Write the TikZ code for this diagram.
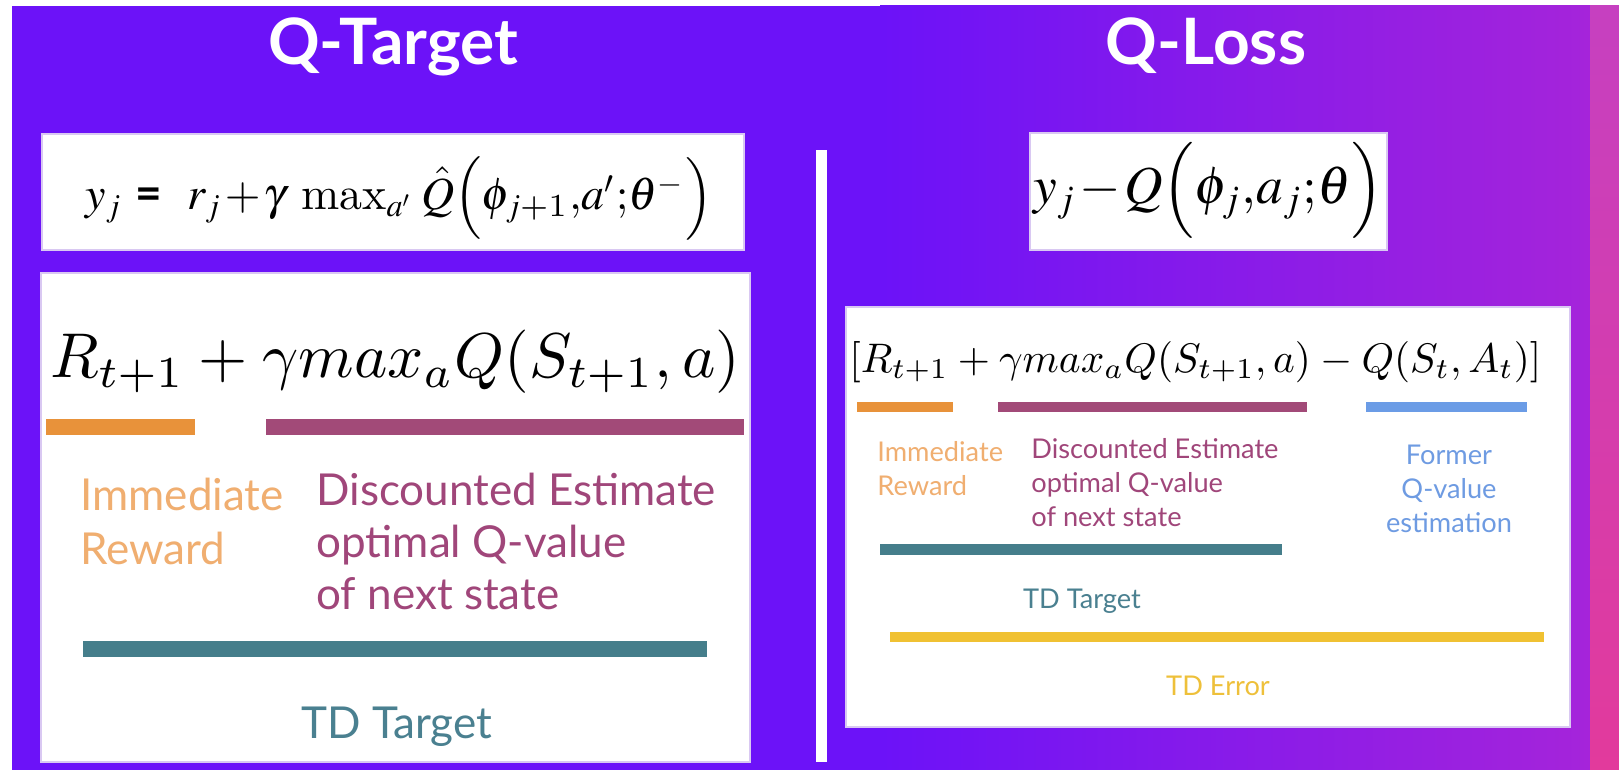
\documentclass[tikz,border=0pt]{standalone}
\usepackage{amsmath}
\usepackage{graphicx}
\usepackage{fontspec}
\newfontfamily\latofont{Lato}
\usetikzlibrary{positioning}
% Times-like math for the DQN formulas
\DeclareMathVersion{times}
\SetSymbolFont{operators}{times}{OT1}{ptm}{m}{n}
\SetSymbolFont{letters}{times}{OML}{ztmcm}{m}{it}
\SetSymbolFont{symbols}{times}{OMS}{ztmcm}{m}{n}
\SetSymbolFont{largesymbols}{times}{OMX}{ztmcm}{m}{n}
\definecolor{bgL}{HTML}{6C12F8}
\definecolor{bgR}{HTML}{A524DA}
\definecolor{stripT}{HTML}{C640C0}
\definecolor{stripB}{HTML}{E23A9C}
\definecolor{panelEdge}{HTML}{D9C8F2}
\definecolor{barOrange}{HTML}{E8923A}
\definecolor{txtOrange}{HTML}{F0AE70}
\definecolor{barPurple}{HTML}{A24A78}
\definecolor{txtPurple}{HTML}{A0467A}
\definecolor{barTeal}{HTML}{457E8B}
\definecolor{txtTeal}{HTML}{4A8090}
\definecolor{barBlue}{HTML}{6B9CE6}
\definecolor{txtBlue}{HTML}{6E9BE2}
\definecolor{barYellow}{HTML}{F0C132}
\definecolor{txtYellow}{HTML}{EEC03A}
\tikzset{
	panel/.style={fill=white, draw=panelEdge, line width=0.6pt},
	title/.style={font=\latofont\bfseries\fontsize{32}{38}\selectfont, text=white, anchor=base, inner sep=0pt},
	biglbl/.style={font=\latofont\fontsize{22}{27.5}\selectfont, align=left, anchor=base west, inner sep=0pt},
	smalllbl/.style={font=\latofont\fontsize{13.6}{17}\selectfont, align=left, anchor=base west, inner sep=0pt},
	formula/.style={inner sep=0pt, anchor=base west}
}

\begin{document}
\begin{tikzpicture}[x=0.5pt, y=-0.5pt]
	% Background and margins
	\fill[white] (0,0) rectangle (1619,770);
	\useasboundingbox (0,0) rectangle (1619,770);
	\fill[bgL] (12,6) rectangle (1590,770);
	\shade[left color=bgL, right color=bgR] (880,6) rectangle (1590,770);
	\shade[top color=stripT, bottom color=stripB] (1590,6) rectangle (1619,770);
	
	% Titles
	\node[title] (qtarget) at (393,65) {Q-Target};
	\node[title] (qloss) at (1206,65) {Q-Loss};
	
	% Divider
	\fill[white] (816,150) rectangle (827,762);
	
	% Left column: Q-Target
	\draw[panel] (42,134) rectangle (744,250);
	\node[formula] (dqntarget) at (85,210) {\resizebox{313.5pt}{!}{\mathversion{times}%
		$y_j\mathrel{\text{\latofont\bfseries =}}\; r_j\!+\!\gamma\,\max\nolimits_{a'}\hat{Q}\Bigl(\phi_{j+1},\!a';\!\theta^-\Bigr)$}};
	
	\draw[panel] (41,273) rectangle (750,762);
	\node[formula] (tdtarget) at (50,378) {\resizebox{345pt}{!}{$R_{t+1}+\gamma max_aQ(S_{t+1},a)$}};
	\fill[barOrange] (46,419) rectangle (195,435);
	\fill[barPurple] (266,419) rectangle (744,435);
	% multi-line labels sit on the baseline of their last line
	\node[biglbl, text=txtOrange] (rewardL) at (80,565) {Immediate\\Reward};
	\node[biglbl, text=txtPurple, font=\latofont\fontsize{22}{26}\selectfont] (estimateL) at (316,610) {Discounted Estimate\\optimal Q-value\\of next state};
	\fill[barTeal] (83,641) rectangle (707,657);
	\node[biglbl, text=txtTeal, anchor=base] (targetL) at (397,738) {TD Target};
	
	% Right column: Q-Loss
	\draw[panel] (1030,133) rectangle (1387,250);
	\node[formula] (dqnloss) at (1033,204) {\resizebox{175pt}{!}{\mathversion{times}%
		$y_j\!-\!Q\Bigl(\phi_j,\!a_j;\!\theta\Bigr)$}};
	
	\draw[panel] (846,307) rectangle (1570,727);
	\node[formula] (tderror) at (849,372) {\resizebox{346pt}{!}{$[R_{t+1}+\gamma max_aQ(S_{t+1},a)-Q(S_t,A_t)]$}};
	\fill[barOrange] (857,402) rectangle (953,412);
	\fill[barPurple] (998,402) rectangle (1307,412);
	\fill[barBlue] (1366,402) rectangle (1527,412);
	\node[smalllbl, text=txtOrange] (rewardR) at (877,495) {Immediate\\Reward};
	\node[smalllbl, text=txtPurple] (estimateR) at (1031,526) {Discounted Estimate\\optimal Q-value\\of next state};
	\node[smalllbl, text=txtBlue, align=center, anchor=base] (formerR) at (1449,532) {Former\\Q-value\\estimation};
	\fill[barTeal] (880,544) rectangle (1282,555);
	\node[smalllbl, text=txtTeal, anchor=base] (targetR) at (1082,608) {TD Target};
	\fill[barYellow] (890,632) rectangle (1544,642);
	\node[smalllbl, text=txtYellow, anchor=base] (errorR) at (1218,695) {TD Error};
\end{tikzpicture}
\end{document}
